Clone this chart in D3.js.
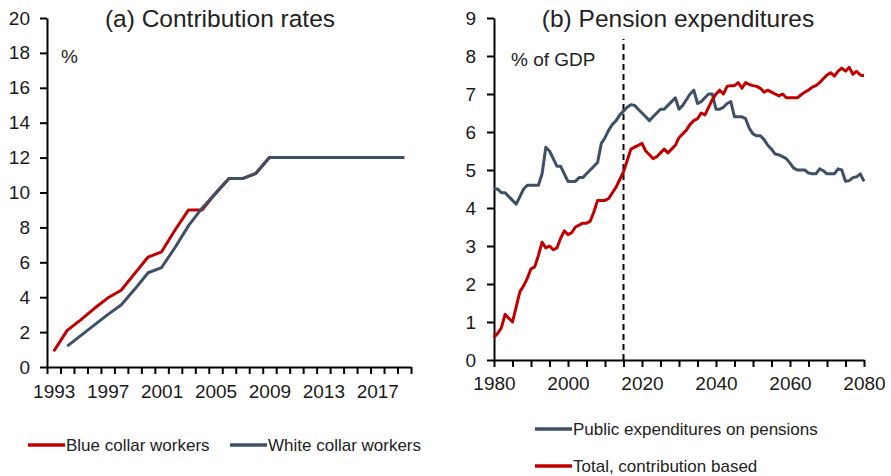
<!DOCTYPE html>
<html>
<head>
<meta charset="utf-8">
<script src="https://cdn.jsdelivr.net/npm/d3@7"></script>
<style>
  body { margin: 0; background: #fff; }
  svg { font-family: "Liberation Sans", Arial, sans-serif; }
  .axis path, .axis line { stroke: #000; stroke-width: 2; }
  .axis text { fill: #1a1a1a; font-size: 19px; }
</style>
</head>
<body>
<div id="chart"></div>
<script>
// (a) contribution rates, %
var contribYears = d3.range(1993, 2020);
var blueCollar = [0.9, 2.1, 2.7, 3.35, 3.95, 4.4, 5.35, 6.3, 6.6, 7.85, 9.0, 9.0, 9.95, 10.8, 10.8, 11.1,
  12, 12, 12, 12, 12, 12, 12, 12, 12, 12, 12];
var whiteCollar = [null, 1.2, 1.8, 2.4, 3.0, 3.55, 4.45, 5.4, 5.7, 6.85, 8.1, 9.1, 9.95, 10.8, 10.8, 11.1,
  12, 12, 12, 12, 12, 12, 12, 12, 12, 12, 12];
var contribLabels = [1993, 1997, 2001, 2005, 2009, 2013, 2017];

// (b) pension expenditures, % of GDP
var pensionYears = d3.range(1980, 2081);
var publicPensions = [
  4.5, 4.5, 4.4, 4.4, 4.3, 4.2, 4.1, 4.3, 4.5, 4.6,   // 1980s
  4.6, 4.6, 4.6, 4.9, 5.6, 5.5, 5.3, 5.1, 5.1, 4.9,   // 1990s
  4.7, 4.7, 4.7, 4.8, 4.8, 4.9, 5.0, 5.1, 5.2, 5.7,   // 2000s
  5.85, 6.05, 6.2, 6.3, 6.45, 6.55, 6.65, 6.72, 6.7, 6.6,
  6.5, 6.4, 6.3, 6.4, 6.5, 6.6, 6.6, 6.7, 6.8, 6.9,
  6.6, 6.7, 6.85, 7.0, 7.1, 6.75, 6.8, 6.9, 7.0, 7.0,
  6.6, 6.6, 6.65, 6.75, 6.8, 6.4, 6.4, 6.4, 6.35, 6.1,
  5.95, 5.9, 5.9, 5.8, 5.65, 5.55, 5.42, 5.4, 5.35, 5.3,
  5.18, 5.05, 5.0, 5.0, 5.0, 4.92, 4.9, 4.9, 5.03, 4.98,
  4.9, 4.9, 4.9, 5.03, 5.0, 4.7, 4.72, 4.8, 4.82, 4.9,
  4.7];
var totalContrib = [
  0.6, 0.7, 0.85, 1.2, 1.1, 1.0, 1.4, 1.8, 1.95, 2.15,
  2.4, 2.45, 2.75, 3.1, 2.95, 3.0, 2.9, 2.95, 3.2, 3.4,
  3.3, 3.35, 3.5, 3.55, 3.6, 3.6, 3.65, 3.9, 4.2, 4.2,
  4.2, 4.25, 4.4, 4.55, 4.75, 4.95, 5.25, 5.55, 5.6, 5.65,
  5.7, 5.5, 5.4, 5.3, 5.35, 5.45, 5.55, 5.45, 5.55, 5.65,
  5.85, 5.95, 6.05, 6.2, 6.3, 6.35, 6.5, 6.45, 6.65, 6.85,
  7.0, 7.1, 7.0, 7.2, 7.22, 7.22, 7.3, 7.15, 7.3, 7.25,
  7.22, 7.2, 7.15, 7.05, 7.1, 7.05, 7.0, 6.95, 7.0, 6.9,
  6.9, 6.9, 6.9, 6.98, 7.05, 7.1, 7.18, 7.22, 7.3, 7.4,
  7.5, 7.56, 7.47, 7.6, 7.68, 7.6, 7.7, 7.52, 7.6, 7.5,
  7.48];
var projectionStart = 2015;

var red = '#c00000',
    slate = '#3e4f68';

var svg = d3.select('#chart').append('svg')
  .attr('width', 891)
  .attr('height', 476);

function translation(x, y) {
  return 'translate(' + x + ',' + y + ')';
}

// ---------- panel (a) ----------
var xA = d3.scaleLinear().domain([1992.5, 2019.5]).range([47, 411]);
var yA = d3.scaleLinear().domain([0, 20]).range([367, 18]);

svg.append('g')
  .attr('class', 'axis')
  .attr('transform', translation(47, 0))
  .call(d3.axisLeft(yA).tickValues(d3.range(0, 21, 2)).tickSize(7).tickSizeOuter(0).tickPadding(10));

// tick marks between categories
svg.append('g')
  .attr('class', 'axis')
  .attr('transform', translation(0, 367))
  .call(d3.axisBottom(xA).tickValues(d3.range(1992.5, 2020, 1)).tickSize(7).tickSizeOuter(0).tickFormat(''));

svg.append('g')
  .attr('class', 'axis labels')
  .attr('transform', translation(0, 367))
  .call(d3.axisBottom(xA).tickValues(contribLabels).tickSize(0).tickPadding(18).tickFormat(d3.format('d')))
  .call(function(g) { g.select('.domain').remove(); });

var lineA = d3.line()
  .defined(function(d) { return d[1] != null; })
  .x(function(d) { return xA(d[0]); })
  .y(function(d) { return yA(d[1]); });

svg.append('path')
  .datum(contribYears.map(function(y, i) { return [y, blueCollar[i]]; }))
  .attr('d', lineA)
  .attr('fill', 'none').attr('stroke', red).attr('stroke-width', 3).attr('stroke-linejoin', 'round');

svg.append('path')
  .datum(contribYears.map(function(y, i) { return [y, whiteCollar[i]]; }))
  .attr('d', lineA)
  .attr('fill', 'none').attr('stroke', slate).attr('stroke-width', 3).attr('stroke-linejoin', 'round');

svg.append('text').attr('x', 220).attr('y', 27).attr('text-anchor', 'middle')
  .attr('font-size', 24.5).attr('fill', '#222').text('(a) Contribution rates');
svg.append('text').attr('x', 61).attr('y', 63)
  .attr('font-size', 19).attr('fill', '#222').text('%');

// ---------- panel (b) ----------
var xB = d3.scaleLinear().domain([1980, 2080]).range([494, 864]);
var yB = d3.scaleLinear().domain([0, 9]).range([360, 18]);

svg.append('g')
  .attr('class', 'axis')
  .attr('transform', translation(494, 0))
  .call(d3.axisLeft(yB).ticks(9).tickSize(7).tickSizeOuter(0).tickPadding(11));

svg.append('g')
  .attr('class', 'axis')
  .attr('transform', translation(0, 360))
  .call(d3.axisBottom(xB).tickValues(d3.range(1980, 2081, 5)).tickSize(7).tickSizeOuter(0).tickPadding(10)
    .tickFormat(function(d) { return d % 20 === 0 ? d : ''; }));

svg.append('line')
  .attr('x1', xB(projectionStart)).attr('x2', xB(projectionStart))
  .attr('y1', yB(0)).attr('y2', yB(8.45))
  .attr('stroke', '#000').attr('stroke-width', 2).attr('stroke-dasharray', '6,4');

var lineB = d3.line()
  .x(function(d) { return xB(d[0]); })
  .y(function(d) { return yB(d[1]); });

svg.append('path')
  .datum(pensionYears.map(function(y, i) { return [y, publicPensions[i]]; }))
  .attr('d', lineB)
  .attr('fill', 'none').attr('stroke', slate).attr('stroke-width', 3).attr('stroke-linejoin', 'round');

svg.append('path')
  .datum(pensionYears.map(function(y, i) { return [y, totalContrib[i]]; }))
  .attr('d', lineB)
  .attr('fill', 'none').attr('stroke', red).attr('stroke-width', 3).attr('stroke-linejoin', 'round');

svg.append('text').attr('x', 678).attr('y', 27).attr('text-anchor', 'middle')
  .attr('font-size', 24.5).attr('fill', '#222').text('(b) Pension expenditures');
svg.append('text').attr('x', 511).attr('y', 66)
  .attr('font-size', 19).attr('fill', '#222').text('% of GDP');

// ---------- legends ----------
var legendItems = [
  { label: 'Blue collar workers', color: red, x: 28, y: 445 },
  { label: 'White collar workers', color: slate, x: 230, y: 445 },
  { label: 'Public expenditures on pensions', color: slate, x: 535, y: 429 },
  { label: 'Total, contribution based', color: red, x: 535, y: 466 }
];

var legend = svg.selectAll('.legend')
  .data(legendItems)
  .enter().append('g')
    .attr('class', 'legend')
    .attr('transform', function(d) { return translation(d.x, d.y); });

legend.append('line')
  .attr('x1', 0).attr('x2', 37)
  .attr('stroke', function(d) { return d.color; })
  .attr('stroke-width', 3.5);

legend.append('text')
  .attr('x', 38).attr('y', 6)
  .attr('font-size', 17).attr('fill', '#222')
  .text(function(d) { return d.label; });
</script>
</body>
</html>
